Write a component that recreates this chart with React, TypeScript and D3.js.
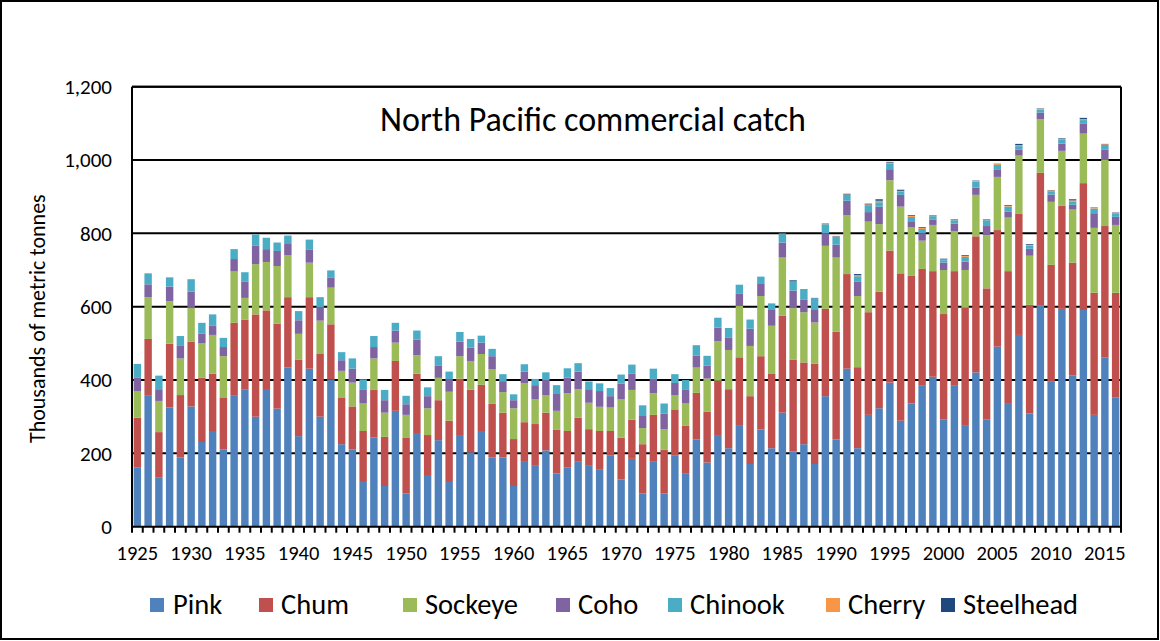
import React from "react";
import * as d3 from "d3";

const years: number[] = d3.range(1925, 2017);

const pink = [161, 357, 135, 325, 189, 328, 231, 261, 211, 357,
  375, 300, 373, 322, 434, 247, 431, 300, 401, 225,
  211, 122, 243, 111, 316, 91, 253, 141, 236, 122,
  250, 203, 261, 189, 189, 111, 179, 166, 208, 145,
  161, 177, 168, 157, 195, 129, 185, 91, 177, 91,
  195, 146, 238, 175, 250, 214, 275, 171, 265, 214,
  311, 205, 225, 171, 356, 238, 431, 214, 305, 323,
  393, 289, 336, 386, 409, 293, 386, 275, 421, 293,
  491, 335, 523, 309, 603, 397, 594, 412, 591, 305,
  462, 353];
const chum = [136, 155, 123, 174, 170, 176, 175, 156, 140, 199,
  190, 279, 217, 232, 192, 209, 195, 171, 151, 126,
  117, 139, 130, 134, 136, 151, 164, 109, 109, 167,
  154, 171, 126, 146, 122, 128, 106, 114, 103, 119,
  100, 120, 98, 104, 66, 114, 107, 134, 128, 119,
  125, 129, 127, 139, 148, 161, 187, 185, 200, 204,
  265, 251, 223, 274, 238, 294, 258, 221, 280, 318,
  360, 402, 348, 317, 288, 287, 311, 322, 371, 357,
  318, 362, 330, 296, 362, 317, 281, 308, 346, 333,
  358, 285];
const sockeye = [73, 114, 85, 116, 100, 93, 95, 106, 114, 140,
  59, 137, 132, 157, 115, 70, 94, 91, 100, 74,
  65, 75, 86, 66, 50, 63, 51, 73, 61, 79,
  61, 78, 84, 94, 56, 84, 107, 67, 47, 52,
  103, 78, 72, 66, 64, 104, 81, 44, 59, 56,
  38, 61, 69, 90, 108, 107, 140, 137, 164, 130,
  158, 140, 137, 112, 172, 202, 161, 194, 247, 184,
  192, 182, 132, 77, 126, 120, 109, 103, 113, 145,
  145, 146, 159, 134, 146, 172, 150, 145, 135, 177,
  182, 185];
const coho = [36, 35, 32, 40, 34, 44, 25, 26, 25, 34,
  45, 50, 35, 41, 30, 37, 35, 36, 28, 29,
  38, 37, 31, 34, 33, 29, 42, 33, 34, 33,
  40, 36, 31, 36, 30, 22, 31, 39, 42, 48,
  43, 48, 37, 43, 31, 43, 44, 35, 39, 42,
  34, 37, 33, 35, 37, 33, 33, 47, 33, 43,
  41, 48, 35, 34, 34, 35, 39, 40, 26, 48,
  30, 32, 15, 20, 15, 20, 21, 23, 20, 25,
  19, 16, 17, 19, 18, 20, 20, 13, 28, 40,
  27, 22];
const chinook = [38, 30, 37, 25, 27, 34, 30, 30, 25, 27,
  25, 31, 31, 23, 23, 25, 28, 28, 19, 22,
  28, 29, 30, 28, 21, 23, 25, 24, 25, 22,
  26, 24, 19, 20, 19, 16, 20, 17, 21, 22,
  25, 23, 21, 21, 22, 25, 25, 27, 28, 28,
  24, 27, 28, 27, 27, 27, 25, 25, 20, 18,
  25, 25, 27, 32, 25, 22, 16, 14, 19, 12,
  16, 8, 14, 12, 9, 7, 9, 13, 16, 16,
  14, 14, 9, 9, 9, 9, 10, 8, 9, 13,
  12, 10];
const cherry = [0, 0, 0, 0, 0, 0, 0, 0, 0, 0,
  0, 0, 0, 0, 0, 0, 0, 0, 0, 0,
  0, 0, 0, 0, 0, 0, 0, 0, 0, 0,
  0, 0, 0, 0, 0, 0, 0, 0, 0, 0,
  0, 0, 0, 0, 0, 0, 0, 0, 0, 0,
  0, 0, 0, 0, 0, 0, 0, 0, 0, 0,
  0, 0, 0, 0, 1, 1, 1, 3, 2, 4,
  2, 3, 3, 3, 2, 2, 2, 3, 2, 2,
  2, 2, 3, 2, 2, 2, 2, 4, 3, 2,
  2, 1];
const steelhead = [0, 0, 0, 0, 0, 0, 0, 0, 0, 0,
  0, 0, 0, 0, 0, 0, 0, 0, 0, 0,
  0, 0, 0, 0, 0, 0, 0, 0, 0, 0,
  0, 0, 0, 0, 0, 0, 0, 0, 0, 0,
  0, 0, 0, 0, 0, 0, 0, 0, 0, 0,
  0, 0, 0, 0, 0, 0, 0, 0, 0, 0,
  0, 3, 1, 1, 1, 1, 2, 3, 2, 4,
  2, 3, 2, 2, 1, 2, 1, 2, 1, 1,
  1, 2, 3, 2, 1, 1, 2, 3, 3, 1,
  1, 1];

const seriesNames = ["Pink", "Chum", "Sockeye", "Coho", "Chinook", "Cherry", "Steelhead"];
const seriesColors = ["#4F81BD", "#C0504D", "#9BBB59", "#8064A2", "#4BACC6", "#F79646", "#1F497D"];
const seriesValues = [pink, chum, sockeye, coho, chinook, cherry, steelhead];
const yTickValues = [0, 200, 400, 600, 800, 1000, 1200];
const xLabelYears = [1925, 1930, 1935, 1940, 1945, 1950, 1955, 1960, 1965, 1970, 1975, 1980, 1985, 1990, 1995, 2000, 2005, 2010, 2015];

const W = 1160;
const H = 641;
const PL = 132, PR = 1121, PT = 86.7, PB = 526.7;
const FONT = "Carlito, Calibri, Lato, 'Open Sans', sans-serif";

export default function App() {
  const rows = years.map((yr, i) => {
    const r: any = { year: String(yr) };
    seriesNames.forEach((n, k) => { r[n] = seriesValues[k][i]; });
    return r;
  });
  const stacked = d3.stack<any>().keys(seriesNames)(rows);
  const x = d3.scaleBand<string>().domain(years.map(String)).range([PL, PR]).paddingInner(0.31).paddingOuter(0.155);
  const y = d3.scaleLinear().domain([0, 1200]).range([PB, PT]);
  const fmt = d3.format(",");
  const step = (PR - PL) / years.length;
  const tickXs = d3.range(0, years.length + 1).map((i) => PL + i * step);

  const legendItems = [
    { sx: 150, tx: 173 },
    { sx: 259, tx: 281 },
    { sx: 403, tx: 425 },
    { sx: 556, tx: 578 },
    { sx: 668, tx: 690 },
    { sx: 826, tx: 848 },
    { sx: 941, tx: 963 },
  ];

  return (
    <div style={{ position: "fixed", left: 0, top: 0 }}>
      <svg width={W} height={H} style={{ display: "block", background: "#fff" }} fontFamily={FONT}>
        <rect x={1} y={1} width={1157} height={638} fill="#fff" stroke="#000" strokeWidth={2} />
        {yTickValues.filter((v) => v > 0).map((v) => (
          <line key={"g" + v} x1={PL} x2={PR} y1={y(v)} y2={y(v)} stroke="#000" strokeWidth={2} />
        ))}
        {stacked.map((layer, k) => (
          <g key={layer.key} fill={seriesColors[k]}>
            {layer.map((d: any, i: number) => {
              const h = y(d[0]) - y(d[1]);
              if (h <= 0) return null;
              return (
                <rect key={i} x={x(d.data.year)} y={y(d[1])} width={x.bandwidth()} height={h} />
              );
            })}
          </g>
        ))}
        <line x1={PL} x2={PL} y1={PT} y2={PB} stroke="#000" strokeWidth={2} />
        <line x1={PR} x2={PR} y1={PT} y2={PB} stroke="#000" strokeWidth={2} />
        <line x1={PL} x2={PR} y1={PT} y2={PT} stroke="#000" strokeWidth={2} />
        <line x1={PL - 1} x2={PR + 1} y1={PB} y2={PB} stroke="#000" strokeWidth={2} />
        {tickXs.map((tx, i) => (
          <line key={"t" + i} x1={tx} x2={tx} y1={PB} y2={PB + 6} stroke="#000" strokeWidth={2} />
        ))}
        {yTickValues.map((v) => (
          <text key={"yl" + v} x={112} y={y(v)} dy="0.35em" textAnchor="end" fontSize={21} fill="#000">
            {fmt(v)}
          </text>
        ))}
        {xLabelYears.map((yr) => (
          <text key={"xl" + yr} x={(x(String(yr)) as number) + x.bandwidth() / 2} y={560} textAnchor="middle" fontSize={20.5} fill="#000">
            {yr}
          </text>
        ))}
        <text transform={`translate(45,${(PT + PB) / 2 + 12}) rotate(-90)`} textAnchor="middle" fontSize={22} fill="#000">
          Thousands of metric tonnes
        </text>
        <text x={593} y={131} textAnchor="middle" fontSize={34} fill="#000">
          North Pacific commercial catch
        </text>
        {seriesNames.map((n, k) => (
          <g key={"lg" + n}>
            <rect x={legendItems[k].sx} y={598} width={14} height={14} fill={seriesColors[k]} />
            <text x={legendItems[k].tx} y={614} fontSize={28.5} fill="#000">{n}</text>
          </g>
        ))}
      </svg>
    </div>
  );
}
